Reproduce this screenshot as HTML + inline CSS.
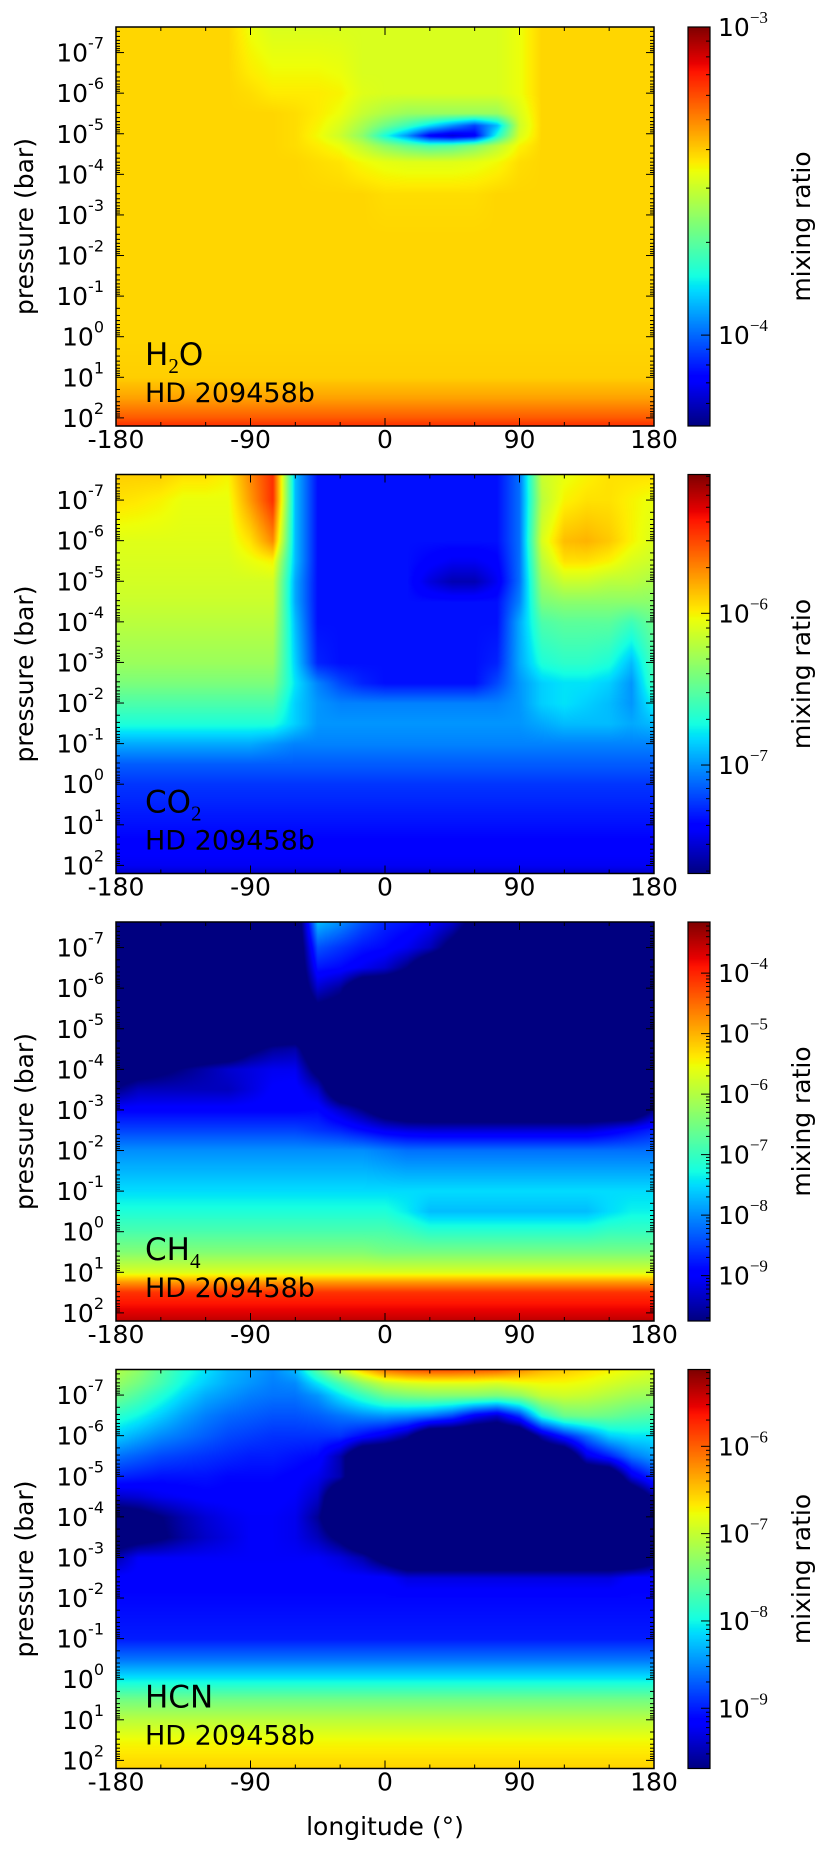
<!DOCTYPE html>
<html><head><meta charset="utf-8"><title>HD 209458b mixing ratios</title>
<style>
body{margin:0;background:#fff;width:830px;height:1863px;overflow:hidden;position:relative;font-family:"DejaVu Sans","Liberation Sans",sans-serif}
canvas{position:absolute}
svg{position:absolute;left:0;top:0}
</style></head>
<body>
<svg id="ov" width="830" height="1863"></svg>
<script>
// ---------- data ----------
const lonCols=[-180,-165,-150,-135,-120,-105,-90,-75,-60,-45,-30,-15,0,15,30,45,60,75,90,105,120,135,150,165,180];
const xTickLabels=["-180","-90","0","90","180"];
const xTickValues=[-180,-90,0,90,180];
const yTickDecades=[-7,-6,-5,-4,-3,-2,-1,0,1,2];

// H2O: log10 mixing ratio
const h2oPressure=[-7.63,-6.5,-6,-5.5,-5.2,-4.95,-4.7,-4.3,-3.5,-2.5,0,1,1.5,2,2.2];
const h2oValues=[
[-3.41,-3.41,-3.41,-3.41,-3.41,-3.41,-3.47,-3.5,-3.5,-3.5,-3.5,-3.5,-3.5,-3.5,-3.5,-3.5,-3.5,-3.5,-3.47,-3.41,-3.41,-3.41,-3.41,-3.41,-3.41],
[-3.41,-3.41,-3.41,-3.41,-3.41,-3.41,-3.44,-3.46,-3.46,-3.46,-3.47,-3.5,-3.5,-3.5,-3.5,-3.5,-3.5,-3.5,-3.47,-3.41,-3.41,-3.41,-3.41,-3.41,-3.41],
[-3.41,-3.41,-3.41,-3.41,-3.41,-3.41,-3.42,-3.44,-3.44,-3.44,-3.45,-3.49,-3.5,-3.5,-3.5,-3.5,-3.5,-3.5,-3.47,-3.41,-3.41,-3.41,-3.41,-3.41,-3.41],
[-3.41,-3.41,-3.41,-3.41,-3.41,-3.41,-3.41,-3.41,-3.42,-3.44,-3.47,-3.53,-3.57,-3.6,-3.6,-3.6,-3.6,-3.6,-3.5,-3.41,-3.41,-3.41,-3.41,-3.41,-3.41],
[-3.41,-3.41,-3.41,-3.41,-3.41,-3.41,-3.41,-3.41,-3.42,-3.45,-3.5,-3.58,-3.67,-3.75,-3.85,-3.95,-4.05,-3.9,-3.52,-3.41,-3.41,-3.41,-3.41,-3.41,-3.41],
[-3.41,-3.41,-3.41,-3.41,-3.41,-3.41,-3.41,-3.41,-3.42,-3.46,-3.52,-3.62,-3.8,-3.95,-4.15,-4.2,-4.15,-3.8,-3.5,-3.41,-3.41,-3.41,-3.41,-3.41,-3.41],
[-3.41,-3.41,-3.41,-3.41,-3.41,-3.41,-3.41,-3.41,-3.42,-3.44,-3.47,-3.54,-3.62,-3.68,-3.72,-3.7,-3.64,-3.55,-3.45,-3.41,-3.41,-3.41,-3.41,-3.41,-3.41],
[-3.41,-3.41,-3.41,-3.41,-3.41,-3.41,-3.41,-3.41,-3.41,-3.42,-3.43,-3.46,-3.48,-3.49,-3.49,-3.49,-3.48,-3.46,-3.42,-3.41,-3.41,-3.41,-3.41,-3.41,-3.41],
[-3.41,-3.41,-3.41,-3.41,-3.41,-3.41,-3.41,-3.41,-3.41,-3.41,-3.41,-3.41,-3.42,-3.42,-3.42,-3.42,-3.42,-3.41,-3.41,-3.41,-3.41,-3.41,-3.41,-3.41,-3.41],
[-3.41,-3.41,-3.41,-3.41,-3.41,-3.41,-3.41,-3.41,-3.41,-3.41,-3.41,-3.41,-3.41,-3.41,-3.41,-3.41,-3.41,-3.41,-3.41,-3.41,-3.41,-3.41,-3.41,-3.41,-3.41],
[-3.41,-3.41,-3.41,-3.41,-3.41,-3.41,-3.41,-3.41,-3.41,-3.41,-3.41,-3.41,-3.41,-3.41,-3.41,-3.41,-3.41,-3.41,-3.41,-3.41,-3.41,-3.41,-3.41,-3.41,-3.41],
[-3.4,-3.4,-3.4,-3.4,-3.4,-3.4,-3.4,-3.4,-3.4,-3.4,-3.4,-3.4,-3.4,-3.4,-3.4,-3.4,-3.4,-3.4,-3.4,-3.4,-3.4,-3.4,-3.4,-3.4,-3.4],
[-3.34,-3.34,-3.34,-3.34,-3.34,-3.34,-3.34,-3.34,-3.34,-3.34,-3.34,-3.34,-3.34,-3.34,-3.34,-3.34,-3.34,-3.34,-3.34,-3.34,-3.34,-3.34,-3.34,-3.34,-3.34],
[-3.24,-3.24,-3.24,-3.24,-3.24,-3.24,-3.24,-3.24,-3.24,-3.24,-3.24,-3.24,-3.24,-3.24,-3.24,-3.24,-3.24,-3.24,-3.24,-3.24,-3.24,-3.24,-3.24,-3.24,-3.24],
[-3.18,-3.18,-3.18,-3.18,-3.18,-3.18,-3.18,-3.18,-3.18,-3.18,-3.18,-3.18,-3.18,-3.18,-3.18,-3.18,-3.18,-3.18,-3.18,-3.18,-3.18,-3.18,-3.18,-3.18,-3.18]
];

// CO2
const co2Pressure=[-7.63,-7,-6,-5.5,-5,-4.5,-4,-3,-2.5,-2,-1.5,-1,-0.5,0,1,2,2.2];
const co2Values=[
[-5.9,-5.9,-5.9,-5.95,-5.95,-6.0,-5.7,-5.45,-6.9,-7.35,-7.35,-7.35,-7.35,-7.35,-7.35,-7.35,-7.35,-7.35,-7.1,-6.15,-6.05,-6.0,-5.95,-5.95,-5.95],
[-5.95,-5.97,-6.0,-6.05,-6.05,-6.05,-5.75,-5.45,-6.9,-7.35,-7.35,-7.35,-7.35,-7.35,-7.35,-7.35,-7.35,-7.35,-7.1,-6.2,-6.0,-5.95,-5.95,-6.0,-6.05],
[-6.08,-6.08,-6.08,-6.08,-6.08,-6.08,-5.95,-5.7,-6.9,-7.35,-7.35,-7.35,-7.35,-7.35,-7.35,-7.35,-7.35,-7.35,-7.1,-6.1,-5.85,-5.82,-5.88,-6.0,-6.1],
[-6.1,-6.1,-6.1,-6.1,-6.1,-6.1,-6.05,-6.0,-6.9,-7.35,-7.35,-7.35,-7.35,-7.35,-7.4,-7.45,-7.45,-7.4,-7.1,-6.2,-5.95,-5.95,-6.0,-6.1,-6.15],
[-6.12,-6.12,-6.12,-6.12,-6.12,-6.12,-6.12,-6.12,-6.95,-7.35,-7.35,-7.35,-7.35,-7.35,-7.5,-7.6,-7.6,-7.45,-7.1,-6.3,-6.15,-6.15,-6.2,-6.2,-6.25],
[-6.15,-6.15,-6.15,-6.15,-6.15,-6.15,-6.15,-6.15,-6.95,-7.35,-7.35,-7.35,-7.35,-7.35,-7.35,-7.35,-7.35,-7.35,-7.05,-6.4,-6.35,-6.35,-6.35,-6.35,-6.35],
[-6.2,-6.2,-6.2,-6.2,-6.2,-6.2,-6.2,-6.2,-6.9,-7.35,-7.35,-7.35,-7.35,-7.35,-7.35,-7.35,-7.35,-7.35,-6.95,-6.55,-6.5,-6.5,-6.5,-6.6,-6.45],
[-6.3,-6.3,-6.3,-6.3,-6.3,-6.3,-6.3,-6.3,-6.85,-7.3,-7.35,-7.35,-7.35,-7.35,-7.35,-7.35,-7.35,-7.3,-6.95,-6.7,-6.65,-6.65,-6.7,-6.9,-6.55],
[-6.4,-6.4,-6.4,-6.4,-6.4,-6.4,-6.4,-6.4,-6.8,-7.05,-7.2,-7.3,-7.35,-7.35,-7.35,-7.35,-7.35,-7.2,-7.0,-6.85,-6.8,-6.8,-6.85,-7.0,-6.6],
[-6.55,-6.55,-6.55,-6.55,-6.55,-6.55,-6.55,-6.55,-6.85,-7.0,-7.05,-7.05,-7.05,-7.05,-7.05,-7.05,-7.05,-7.05,-7.0,-6.85,-6.8,-6.85,-6.9,-7.0,-6.75],
[-6.7,-6.7,-6.7,-6.7,-6.7,-6.7,-6.7,-6.7,-6.85,-7.0,-7.0,-7.0,-7.0,-7.0,-7.0,-7.0,-7.0,-7.0,-7.0,-6.95,-6.9,-6.9,-6.9,-6.95,-6.9],
[-6.95,-6.95,-6.95,-6.95,-6.95,-6.95,-6.95,-7.0,-7.05,-7.05,-7.05,-7.05,-7.05,-7.05,-7.05,-7.05,-7.05,-7.05,-7.05,-7.05,-7.05,-7.05,-7.05,-7.05,-7.05],
[-7.15,-7.15,-7.15,-7.15,-7.15,-7.15,-7.15,-7.15,-7.15,-7.15,-7.15,-7.15,-7.15,-7.15,-7.15,-7.15,-7.15,-7.15,-7.15,-7.15,-7.15,-7.15,-7.15,-7.15,-7.15],
[-7.25,-7.25,-7.25,-7.25,-7.25,-7.25,-7.25,-7.25,-7.25,-7.25,-7.25,-7.25,-7.25,-7.25,-7.25,-7.25,-7.25,-7.25,-7.25,-7.25,-7.25,-7.25,-7.25,-7.25,-7.25],
[-7.35,-7.35,-7.35,-7.35,-7.35,-7.35,-7.35,-7.35,-7.35,-7.35,-7.35,-7.35,-7.35,-7.35,-7.35,-7.35,-7.35,-7.35,-7.35,-7.35,-7.35,-7.35,-7.35,-7.35,-7.35],
[-7.45,-7.45,-7.45,-7.45,-7.45,-7.45,-7.45,-7.45,-7.45,-7.45,-7.45,-7.45,-7.45,-7.45,-7.45,-7.45,-7.45,-7.45,-7.45,-7.45,-7.45,-7.45,-7.45,-7.45,-7.45],
[-7.55,-7.55,-7.55,-7.55,-7.55,-7.55,-7.55,-7.55,-7.55,-7.55,-7.55,-7.55,-7.55,-7.55,-7.55,-7.55,-7.55,-7.55,-7.55,-7.55,-7.55,-7.55,-7.55,-7.55,-7.55]
];

// CH4
const ch4Pressure=[-7.63,-7,-6.5,-6,-5,-4.5,-4,-3.5,-3,-2.5,-2,-1,-0.5,0,0.5,1,1.25,1.5,2,2.2];
const ch4Values=[
[-10.5,-10.5,-10.5,-10.5,-10.5,-10.5,-10.5,-10.5,-10.5,-7.7,-8.0,-8.4,-8.7,-8.8,-9.0,-9.3,-10.0,-10.5,-10.5,-10.5,-10.5,-10.5,-10.5,-10.5,-10.5],
[-10.5,-10.5,-10.5,-10.5,-10.5,-10.5,-10.5,-10.5,-10.5,-8.4,-8.6,-8.8,-8.9,-9.1,-9.4,-10.0,-10.5,-10.5,-10.5,-10.5,-10.5,-10.5,-10.5,-10.5,-10.5],
[-10.5,-10.5,-10.5,-10.5,-10.5,-10.5,-10.5,-10.5,-10.5,-8.8,-8.9,-9.1,-9.3,-9.75,-10.5,-10.5,-10.5,-10.5,-10.5,-10.5,-10.5,-10.5,-10.5,-10.5,-10.5],
[-10.5,-10.5,-10.5,-10.5,-10.5,-10.5,-10.5,-10.5,-10.5,-9.3,-9.6,-10.5,-10.5,-10.5,-10.5,-10.5,-10.5,-10.5,-10.5,-10.5,-10.5,-10.5,-10.5,-10.5,-10.5],
[-10.5,-10.5,-10.5,-10.5,-10.5,-10.5,-10.5,-10.5,-10.5,-10.5,-10.5,-10.5,-10.5,-10.5,-10.5,-10.5,-10.5,-10.5,-10.5,-10.5,-10.5,-10.5,-10.5,-10.5,-10.5],
[-10.5,-10.5,-10.5,-10.5,-10.5,-10.5,-9.9,-9.6,-9.5,-10.5,-10.5,-10.5,-10.5,-10.5,-10.5,-10.5,-10.5,-10.5,-10.5,-10.5,-10.5,-10.5,-10.5,-10.5,-10.5],
[-10.3,-10.1,-9.9,-9.7,-9.5,-9.3,-9.2,-9.1,-9.1,-10.0,-10.5,-10.5,-10.5,-10.5,-10.5,-10.5,-10.5,-10.5,-10.5,-10.5,-10.5,-10.5,-10.5,-10.5,-10.5],
[-9.7,-9.4,-9.4,-9.4,-9.4,-9.4,-9.2,-9.0,-8.95,-9.3,-10.5,-10.5,-10.5,-10.5,-10.5,-10.5,-10.5,-10.5,-10.5,-10.5,-10.5,-10.5,-10.5,-10.5,-10.5],
[-8.95,-8.95,-8.95,-8.95,-8.95,-8.95,-8.95,-8.95,-8.95,-8.9,-9.3,-9.7,-10.2,-10.5,-10.5,-10.5,-10.5,-10.5,-10.5,-10.5,-10.5,-10.5,-10.5,-10.5,-9.7],
[-8.5,-8.5,-8.5,-8.5,-8.5,-8.5,-8.5,-8.5,-8.5,-8.6,-8.7,-8.9,-9.1,-9.2,-9.25,-9.25,-9.25,-9.25,-9.25,-9.25,-9.25,-9.25,-9.1,-8.9,-8.7],
[-8.0,-8.0,-8.0,-8.0,-8.0,-8.0,-8.0,-8.0,-8.0,-8.0,-8.0,-8.0,-8.1,-8.2,-8.2,-8.2,-8.2,-8.2,-8.2,-8.2,-8.2,-8.2,-8.2,-8.2,-8.2],
[-7.5,-7.5,-7.5,-7.5,-7.5,-7.5,-7.5,-7.5,-7.5,-7.5,-7.5,-7.5,-7.5,-7.5,-7.5,-7.5,-7.5,-7.5,-7.5,-7.5,-7.5,-7.5,-7.5,-7.5,-7.5],
[-7.2,-7.2,-7.2,-7.2,-7.2,-7.2,-7.2,-7.2,-7.2,-7.2,-7.2,-7.2,-7.2,-7.4,-7.7,-7.7,-7.7,-7.7,-7.7,-7.7,-7.7,-7.7,-7.5,-7.35,-7.35],
[-6.85,-6.85,-6.85,-6.85,-6.85,-6.85,-6.85,-6.85,-6.85,-6.85,-6.85,-6.85,-6.85,-6.95,-7.1,-7.1,-7.1,-7.1,-7.1,-7.1,-7.1,-7.1,-7.0,-7.0,-7.0],
[-6.4,-6.4,-6.4,-6.4,-6.4,-6.4,-6.4,-6.4,-6.4,-6.4,-6.4,-6.4,-6.5,-6.5,-6.5,-6.5,-6.5,-6.5,-6.5,-6.5,-6.5,-6.5,-6.5,-6.5,-6.5],
[-5.7,-5.7,-5.7,-5.7,-5.7,-5.7,-5.7,-5.7,-5.7,-5.7,-5.7,-5.7,-5.7,-5.7,-5.7,-5.7,-5.7,-5.7,-5.7,-5.7,-5.7,-5.7,-5.7,-5.7,-5.7],
[-4.8,-4.8,-4.8,-4.8,-4.8,-4.8,-4.8,-4.8,-4.8,-4.8,-4.8,-4.8,-4.8,-4.8,-4.8,-4.8,-4.8,-4.8,-4.8,-4.8,-4.8,-4.8,-4.8,-4.8,-4.8],
[-4.1,-4.1,-4.1,-4.1,-4.1,-4.1,-4.1,-4.1,-4.1,-4.1,-4.1,-4.1,-4.1,-4.1,-4.1,-4.1,-4.1,-4.1,-4.1,-4.1,-4.1,-4.1,-4.1,-4.1,-4.1],
[-3.7,-3.7,-3.7,-3.7,-3.7,-3.7,-3.7,-3.7,-3.7,-3.7,-3.7,-3.7,-3.7,-3.7,-3.7,-3.7,-3.7,-3.7,-3.7,-3.7,-3.7,-3.7,-3.7,-3.7,-3.7],
[-3.5,-3.5,-3.5,-3.5,-3.5,-3.5,-3.5,-3.5,-3.5,-3.5,-3.5,-3.5,-3.5,-3.5,-3.5,-3.5,-3.5,-3.5,-3.5,-3.5,-3.5,-3.5,-3.5,-3.5,-3.5]
];

// HCN
const hcnPressure=[-7.63,-7.3,-7,-6.5,-6,-5.5,-5,-4.5,-4,-3.5,-3,-2.5,-2,-1,-0.5,0,0.5,1,1.5,2,2.2];
const hcnValues=[
[-7.1,-7.3,-7.6,-7.9,-8.1,-8.3,-8.4,-8.5,-8.3,-7.6,-7.0,-6.5,-6.1,-5.95,-5.9,-5.9,-5.95,-6.0,-6.2,-6.4,-6.5,-6.6,-6.7,-6.8,-6.9],
[-7.25,-7.45,-7.7,-8.0,-8.2,-8.35,-8.45,-8.55,-8.5,-8.1,-7.7,-7.3,-7.0,-6.9,-6.85,-6.85,-6.85,-6.9,-6.8,-6.75,-6.75,-6.8,-6.9,-7.0,-7.05],
[-7.45,-7.65,-7.9,-8.15,-8.35,-8.45,-8.55,-8.6,-8.6,-8.45,-8.1,-7.8,-7.5,-7.4,-7.35,-7.35,-7.35,-7.4,-7.3,-7.0,-6.95,-7.0,-7.1,-7.2,-7.25],
[-7.85,-8.0,-8.2,-8.4,-8.55,-8.65,-8.7,-8.75,-8.75,-8.7,-8.6,-8.5,-8.45,-8.5,-8.6,-8.8,-9.2,-9.4,-8.9,-7.9,-7.5,-7.45,-7.5,-7.6,-7.65],
[-8.2,-8.35,-8.5,-8.6,-8.7,-8.8,-8.85,-8.9,-8.9,-8.9,-8.9,-9.1,-9.3,-9.6,-10.3,-10.3,-10.3,-10.3,-10.3,-9.5,-9.0,-8.6,-8.2,-8.1,-8.1],
[-8.6,-8.7,-8.8,-8.85,-8.9,-8.95,-9.0,-9.0,-9.05,-9.1,-9.5,-10.3,-10.3,-10.3,-10.3,-10.3,-10.3,-10.3,-10.3,-10.3,-10.3,-9.3,-9.0,-8.6,-8.4],
[-8.95,-9.0,-9.05,-9.05,-9.05,-9.1,-9.1,-9.1,-9.15,-9.25,-9.5,-10.3,-10.3,-10.3,-10.3,-10.3,-10.3,-10.3,-10.3,-10.3,-10.3,-10.3,-10.3,-9.3,-8.9],
[-9.4,-9.35,-9.25,-9.2,-9.15,-9.15,-9.15,-9.15,-9.2,-9.4,-10.3,-10.3,-10.3,-10.3,-10.3,-10.3,-10.3,-10.3,-10.3,-10.3,-10.3,-10.3,-10.3,-10.3,-9.6],
[-10.0,-9.9,-9.7,-9.5,-9.35,-9.25,-9.2,-9.2,-9.25,-9.6,-10.3,-10.3,-10.3,-10.3,-10.3,-10.3,-10.3,-10.3,-10.3,-10.3,-10.3,-10.3,-10.3,-10.3,-10.3],
[-10.0,-9.9,-9.75,-9.55,-9.4,-9.3,-9.2,-9.2,-9.25,-9.45,-9.8,-10.3,-10.3,-10.3,-10.3,-10.3,-10.3,-10.3,-10.3,-10.3,-10.3,-10.3,-10.3,-10.3,-10.3],
[-9.5,-9.2,-9.2,-9.2,-9.2,-9.2,-9.2,-9.2,-9.2,-9.2,-9.3,-9.5,-9.9,-10.3,-10.3,-10.3,-10.3,-10.3,-10.3,-10.3,-10.3,-10.3,-10.3,-10.3,-9.9],
[-9.15,-9.15,-9.15,-9.15,-9.15,-9.15,-9.15,-9.15,-9.15,-9.15,-9.15,-9.15,-9.15,-9.3,-9.3,-9.3,-9.3,-9.3,-9.3,-9.3,-9.3,-9.3,-9.3,-9.15,-9.15],
[-9.1,-9.1,-9.1,-9.1,-9.1,-9.1,-9.1,-9.1,-9.1,-9.1,-9.1,-9.1,-9.1,-9.1,-9.1,-9.1,-9.1,-9.1,-9.1,-9.1,-9.1,-9.1,-9.1,-9.1,-9.1],
[-9.0,-9.0,-9.0,-9.0,-9.0,-9.0,-9.0,-9.0,-9.0,-9.0,-9.0,-9.0,-9.0,-9.0,-9.0,-9.0,-9.0,-9.0,-9.0,-9.0,-9.0,-9.0,-9.0,-9.0,-9.0],
[-8.6,-8.6,-8.6,-8.6,-8.6,-8.6,-8.6,-8.6,-8.6,-8.6,-8.6,-8.6,-8.6,-8.6,-8.6,-8.6,-8.6,-8.6,-8.6,-8.6,-8.6,-8.6,-8.6,-8.6,-8.6],
[-8.05,-8.05,-8.05,-8.05,-8.05,-8.05,-8.05,-8.05,-8.05,-8.05,-8.05,-8.05,-8.05,-8.05,-8.05,-8.05,-8.05,-8.05,-8.05,-8.05,-8.05,-8.05,-8.05,-8.05,-8.05],
[-7.45,-7.45,-7.45,-7.45,-7.45,-7.45,-7.45,-7.45,-7.45,-7.45,-7.45,-7.45,-7.45,-7.45,-7.45,-7.45,-7.45,-7.45,-7.45,-7.45,-7.45,-7.45,-7.45,-7.45,-7.45],
[-7.05,-7.05,-7.05,-7.05,-7.05,-7.05,-7.05,-7.05,-7.05,-7.05,-7.05,-7.05,-7.05,-7.05,-7.05,-7.05,-7.05,-7.05,-7.05,-7.05,-7.05,-7.05,-7.05,-7.05,-7.05],
[-6.75,-6.75,-6.75,-6.75,-6.75,-6.75,-6.75,-6.75,-6.75,-6.75,-6.75,-6.75,-6.75,-6.75,-6.75,-6.75,-6.75,-6.75,-6.75,-6.75,-6.75,-6.75,-6.75,-6.75,-6.75],
[-6.6,-6.6,-6.6,-6.6,-6.6,-6.6,-6.6,-6.6,-6.6,-6.6,-6.6,-6.6,-6.6,-6.6,-6.6,-6.6,-6.6,-6.6,-6.6,-6.6,-6.6,-6.6,-6.6,-6.6,-6.6],
[-6.55,-6.55,-6.55,-6.55,-6.55,-6.55,-6.55,-6.55,-6.55,-6.55,-6.55,-6.55,-6.55,-6.55,-6.55,-6.55,-6.55,-6.55,-6.55,-6.55,-6.55,-6.55,-6.55,-6.55,-6.55]
];

const cbMin=[-4.295,-7.715,-9.75,-9.69];
const cbMax=[-3.0,-5.085,-3.155,-5.12];
const speciesMain=["H","CO","CH","HCN"];
const speciesSub=["2","2","4",""];
const speciesTail=["O","","",""];

// ---------- layout ----------
const L=116,R=654,W=R-L,H=399,PTOP=-7.63,PBOT=2.2;
const tops=[27,474.5,922,1369.5];
const CBX=688,CBW=22;
const NS="http://www.w3.org/2000/svg";
const ov=document.getElementById('ov');
const pressures=[h2oPressure,co2Pressure,ch4Pressure,hcnPressure];
const values=[h2oValues,co2Values,ch4Values,hcnValues];
const names=["h2o","co2","ch4","hcn"];

function xOf(lon){return L+(lon+180)/360*W;}
function yOf(top,lp){return top+(lp-PTOP)/(PBOT-PTOP)*H;}
function pw(pts,t){
  if(t<=pts[0][0])return pts[0][1];
  for(let i=1;i<pts.length;i++){if(t<=pts[i][0]){const a=pts[i-1],b=pts[i];return a[1]+(b[1]-a[1])*(t-a[0])/(b[0]-a[0]);}}
  return pts[pts.length-1][1];
}
const JR=[[0,0],[0.35,0],[0.66,1],[0.89,1],[1,0.5]];
const JG=[[0,0],[0.125,0],[0.375,1],[0.64,1],[0.91,0],[1,0]];
const JB=[[0,0.5],[0.11,1],[0.34,1],[0.65,0],[1,0]];
function jet(t){t=Math.max(0,Math.min(1,t));return[pw(JR,t)*255,pw(JG,t)*255,pw(JB,t)*255];}
function locate(arr,v){
  if(v<=arr[0])return[0,0];
  for(let i=1;i<arr.length;i++){if(v<=arr[i])return[i-1,(v-arr[i-1])/(arr[i]-arr[i-1])];}
  return[arr.length-2,1];
}
function el(tag,attrs,parent){const e=document.createElementNS(NS,tag);for(const k in attrs)e.setAttribute(k,attrs[k]);(parent||ov).appendChild(e);return e;}

for(let p=0;p<4;p++){
  const top=tops[p],rows=pressures[p],vals=values[p],vmin=cbMin[p],vmax=cbMax[p];
  const cv=document.createElement('canvas');
  cv.width=W;cv.height=H;cv.style.left=L+'px';cv.style.top=top+'px';
  
  
  document.body.insertBefore(cv,ov);
  const ctx=cv.getContext('2d');const img=ctx.createImageData(W,H);
  for(let py=0;py<H;py++){
    const lp=PTOP+(py+0.5)/H*(PBOT-PTOP);const [ri,rf]=locate(rows,lp);
    const r0=vals[ri],r1=vals[ri+1];
    for(let px=0;px<W;px++){
      const lon=-180+(px+0.5)/W*360;const [ci,cf]=locate(lonCols,lon);
      const a=r0[ci]+(r0[ci+1]-r0[ci])*cf,b=r1[ci]+(r1[ci+1]-r1[ci])*cf;
      const v=a+(b-a)*rf;const c=jet((v-vmin)/(vmax-vmin));
      const k=(py*W+px)*4;img.data[k]=c[0];img.data[k+1]=c[1];img.data[k+2]=c[2];img.data[k+3]=255;
    }
  }
  ctx.putImageData(img,0,0);
  const cb=document.createElement('canvas');
  cb.width=CBW;cb.height=H;cb.style.left=CBX+'px';cb.style.top=top+'px';
  
  
  document.body.insertBefore(cb,ov);
  const cctx=cb.getContext('2d');
  for(let py=0;py<H;py++){const c=jet(1-(py+0.5)/H);cctx.fillStyle=`rgb(${c[0]|0},${c[1]|0},${c[2]|0})`;cctx.fillRect(0,py,CBW,1);}

  const g=el('g',{});
  
  
  const fr=el('rect',{x:L,y:top,width:W,height:H,fill:'none',stroke:'#000','stroke-width':1.5},g);
  
  
  for(let d=-8;d<=2;d++){
    for(let k=1;k<10;k++){
      const lp=d+Math.log10(k);if(lp<PTOP||lp>PBOT)continue;
      const y=yOf(top,lp),len=k==1?8:4;
      el('line',{x1:L,x2:L+len,y1:y,y2:y,stroke:'#000','stroke-width':1},g);
      el('line',{x1:R,x2:R-len,y1:y,y2:y,stroke:'#000','stroke-width':1},g);
    }
  }
  yTickDecades.forEach(d=>{
    const y=yOf(top,d);
    const t=el('text',{x:104,y:y+9,'text-anchor':'end','font-size':25,fill:'#000'},g);
    
    
    t.appendChild(document.createTextNode('10'));
    const s=el('tspan',{'font-size':16,dy:-13},t);s.textContent=String(d);
  });
  for(let lon=-180;lon<=180;lon+=30){
    const x=xOf(lon),len=(lon%90==0)?8:4;
    el('line',{x1:x,x2:x,y1:top+H,y2:top+H-len,stroke:'#000','stroke-width':1},g);
    el('line',{x1:x,x2:x,y1:top,y2:top+len,stroke:'#000','stroke-width':1},g);
  }
  xTickValues.forEach((v,i)=>{
    const t=el('text',{x:xOf(v),y:top+H+22,'text-anchor':'middle','font-size':25,fill:'#000'},g);
    
    
    t.textContent=xTickLabels[i];
  });
  const yt=el('text',{transform:`translate(33,${top+H/2}) rotate(-90)`,'text-anchor':'middle','font-size':25,fill:'#000'},g);
  
  
  yt.textContent='pressure (bar)';
  const sp=el('text',{x:145,y:top+338,'font-size':31,fill:'#000'},g);
  
  
  sp.appendChild(document.createTextNode(speciesMain[p]));
  if(speciesSub[p]){const s=el('tspan',{'font-size':21,dy:8,'font-family':'"Liberation Serif",serif'},sp);s.textContent=speciesSub[p];}
  if(speciesTail[p]){const s=el('tspan',{dy:-8},sp);s.textContent=speciesTail[p];}
  const pl=el('text',{x:145,y:top+375,'font-size':27,fill:'#000'},g);
  
  
  pl.textContent='HD 209458b';
  const cf=el('rect',{x:CBX,y:top,width:CBW,height:H,fill:'none',stroke:'#000','stroke-width':1.2},g);
  
  
  const cy=v=>top+(vmax-v)/(vmax-vmin)*H;
  for(let d=Math.floor(vmin);d<=Math.ceil(vmax);d++){
    for(let k=1;k<10;k++){
      const v=d+Math.log10(k);if(v<vmin||v>vmax)continue;
      const y=cy(v),len=k==1?9:4;
      el('line',{x1:CBX+CBW,x2:CBX+CBW-len,y1:y,y2:y,stroke:'#000','stroke-width':1},g);
      if(k==1){
        const t=el('text',{x:718,y:y+9,'font-size':25,fill:'#000'},g);
        
        
        t.appendChild(document.createTextNode('10'));
        const s=el('tspan',{'font-size':17,dy:-13,'font-family':'"Liberation Serif",serif'},t);s.textContent='\u2212'+Math.abs(d);
      }
    }
  }
  const ml=el('text',{transform:`translate(810,${top+H/2}) rotate(-90)`,'text-anchor':'middle','font-size':25,fill:'#000'},g);
  
  
  ml.textContent='mixing ratio';
}
const xl=el('text',{x:385,y:1835,'text-anchor':'middle','font-size':25,fill:'#000'});


xl.textContent='longitude (°)';
</script>
</body></html>
